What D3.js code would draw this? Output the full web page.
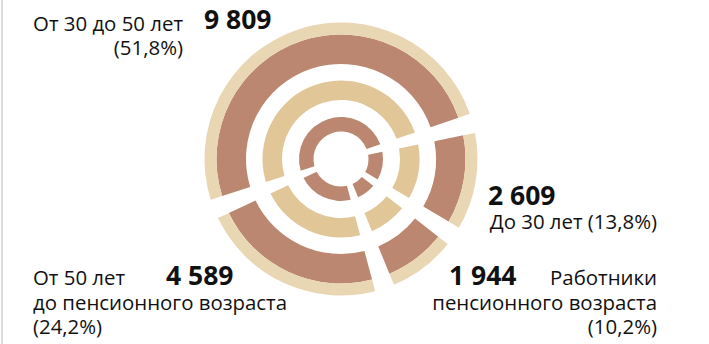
<!DOCTYPE html>
<html>
<head>
<meta charset="utf-8">
<script src="https://cdn.jsdelivr.net/npm/d3@7"></script>
<style>
  html, body { margin: 0; padding: 0; background: #fff; }
  svg { display: block; }
  text { font-family: "Open Sans", "Noto Sans", sans-serif; fill: #111; }
</style>
</head>
<body>
<svg id="chart" width="709" height="344"></svg>
<script>
// Staff by age group (people)
const categories = ["От 30 до 50 лет", "До 30 лет", "Работники пенсионного возраста", "От 50 лет до пенсионного возраста"];
const values = [9809, 2609, 1944, 4589];
const shares = ["51,8%", "13,8%", "10,2%", "24,2%"];

// Concentric bands: each one repeats the same split of the whole
const rings = [
  { inner: 27.5, outer: 42,    color: "#bc8770" },
  { inner: 59,   outer: 78.5,  color: "#e1c697" },
  { inner: 95,   outer: 124.5, color: "#bc8770" },
  { inner: 124.5, outer: 136.5, color: "#e9d6b3" }
];

const svg = d3.select("#chart");
const W = 709, H = 344;
const cx = 341, cy = 159;

// thin frame line on the left edge
svg.append("line")
  .attr("x1", 2).attr("x2", 2).attr("y1", 0).attr("y2", H)
  .attr("stroke", "#d2d2d2").attr("stroke-width", 1.6);

const startA = -111.5 * Math.PI / 180;
const pie = d3.pie().sort(null).value(d => d)
  .startAngle(startA).endAngle(startA + 2 * Math.PI);
const slices = pie(values);

// gaps between the groups widen slightly toward the rim
const wedge = 0.0635;      // angular half-gap (rad)
const arc = d3.arc().padAngle(0.02).padRadius(125);

const g = svg.append("g").attr("transform", `translate(${cx},${cy})`);
rings.forEach(r => {
  g.append("g").selectAll("path")
    .data(slices)
    .join("path")
    .attr("fill", r.color)
    .attr("d", s => arc({
      innerRadius: r.inner,
      outerRadius: r.outer,
      startAngle: s.startAngle + wedge,
      endAngle: s.endAngle - wedge
    }));
});

const fmt = d3.formatLocale({ thousands: "\u00a0", grouping: [3], decimal: ",", currency: ["", ""] }).format(",d");
const NUM = 26.5, LBL = 20.4;

function num(i, x, y) {
  svg.append("text").attr("x", x).attr("y", y)
    .attr("font-size", NUM).attr("font-weight", 700)
    .text(fmt(values[i]));
}
// one text block per label, one tspan per line
function lines(list, x, y0, step, anchor) {
  const t = svg.append("text").attr("x", x).attr("y", y0)
    .attr("font-size", LBL).attr("text-anchor", anchor);
  list.forEach((s, k) => {
    t.append("tspan").attr("x", x).attr("dy", k === 0 ? 0 : step).text(s);
  });
}

// 30–50
lines([categories[0], `(${shares[0]})`], 183, 31, 23.5, "end");
num(0, 204, 29);

// under 30
num(1, 488, 205);
lines([`${categories[1]} (${shares[1]})`], 657, 229, 24, "end");

// pension age
num(2, 449, 285);
lines(["Работники", "пенсионного возраста", `(${shares[2]})`], 657, 285, 24.5, "end");

// 50 to pension age
num(3, 166, 285);
lines(["От 50 лет", "до пенсионного возраста", `(${shares[3]})`], 33, 285, 24.5, "start");
</script>
</body>
</html>
